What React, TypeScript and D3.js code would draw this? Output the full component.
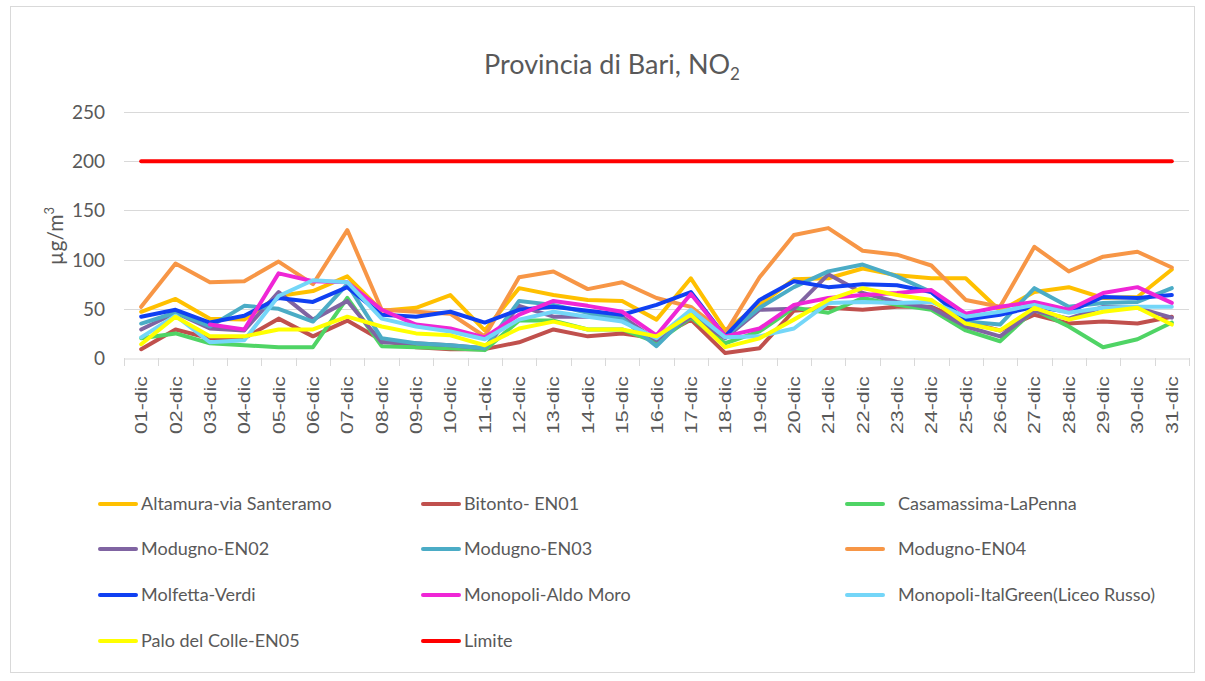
import { useEffect, useRef } from 'react';
import * as d3 from 'd3';

const days = Array.from({ length: 31 }, (_, i) => `${String(i + 1).padStart(2, '0')}-dic`);

const altamura = [47, 60, 40, 39, 63, 68, 83, 48, 51, 64, 28, 71, 64, 59, 58, 39, 81, 28, 54, 80, 81, 91, 84, 81, 81, 48, 67, 72, 61, 62, 90];
const bitonto = [9, 29, 20, 20, 40, 22, 38, 18, 11, 9, 9, 16, 29, 22, 25, 20, 39, 5, 10, 48, 51, 49, 52, 52, 37, 28, 44, 35, 37, 35, 42];
const casamassima = [20, 25, 15, 13, 11, 11, 61, 12, 11, 10, 8, 38, 38, 29, 29, 16, 41, 15, 27, 51, 46, 61, 54, 49, 28, 17, 49, 32, 11, 19, 36];
const modugno02 = [29, 46, 30, 28, 67, 39, 58, 16, 15, 13, 10, 53, 42, 42, 42, 18, 42, 20, 49, 50, 85, 66, 57, 51, 32, 22, 48, 40, 52, 51, 41];
const modugno03 = [35, 46, 32, 53, 50, 37, 75, 20, 15, 13, 10, 58, 54, 46, 40, 12, 47, 22, 51, 72, 88, 95, 83, 67, 37, 34, 71, 52, 56, 57, 71];
const modugno04 = [52, 96, 77, 78, 98, 75, 130, 49, 47, 45, 22, 82, 88, 70, 77, 61, 52, 25, 82, 125, 132, 109, 105, 94, 59, 52, 113, 88, 103, 108, 92];
const molfetta = [42, 49, 36, 43, 61, 57, 72, 44, 42, 47, 36, 49, 52, 48, 44, 54, 67, 22, 59, 78, 72, 75, 74, 67, 39, 44, 52, 47, 62, 61, 64];
const aldoMoro = [null, null, 34, 29, 86, 78, 77, 49, 34, 30, 21, 44, 58, 53, 47, 23, 65, 22, 30, 54, 61, 64, 66, 69, 45, 52, 57, 49, 66, 72, 56];
const italGreen = [21, 43, 16, 18, 63, 79, 77, 40, 32, 27, 19, 39, 47, 42, 37, 20, 49, 21, 22, 30, 56, 57, 56, 57, 42, 47, 54, 46, 51, 52, 52];
const paloColle = [14, 42, 22, 22, 29, 29, 42, 32, 25, 23, 13, 30, 37, 29, 29, 22, 44, 11, 20, 39, 59, 71, 64, 59, 35, 28, 51, 39, 47, 51, 34];
const limite = days.map(() => 200);

const seriesNames = [
  'Altamura-via Santeramo',
  'Bitonto- EN01',
  'Casamassima-LaPenna',
  'Modugno-EN02',
  'Modugno-EN03',
  'Modugno-EN04',
  'Molfetta-Verdi',
  'Monopoli-Aldo Moro',
  'Monopoli-ItalGreen(Liceo Russo)',
  'Palo del Colle-EN05',
  'Limite',
];
const seriesValues = [altamura, bitonto, casamassima, modugno02, modugno03, modugno04, molfetta, aldoMoro, italGreen, paloColle, limite];
const seriesColors = ['#ffc000', '#c0504d', '#4fd465', '#8064a2', '#4bacc6', '#f79646', '#1040f2', '#ef26d6', '#74d6f8', '#ffff00', '#ff0000'];
const yTicks = [0, 50, 100, 150, 200, 250];

export default function App() {
  const ref = useRef<SVGSVGElement>(null);

  useEffect(() => {
    const svg = d3.select(ref.current);
    svg.selectAll('*').remove();

    const width = 1205;
    const height = 681;
    const font = 'Lato, "Open Sans", sans-serif';
    const grey = '#595959';

    svg.attr('width', width).attr('height', height);

    // frame
    svg.append('rect')
      .attr('x', 10.5).attr('y', 6.5)
      .attr('width', 1184).attr('height', 666)
      .attr('fill', '#fff').attr('stroke', '#d9d9d9');

    const x = d3.scaleBand<string>().domain(days).range([124, 1189]);
    const cx = (d: string) => (x(d) as number) + x.bandwidth() / 2;
    const y = d3.scaleLinear().domain([0, 250]).range([358, 112]);

    // title
    const title = svg.append('text')
      .attr('x', 612).attr('y', 74)
      .attr('text-anchor', 'middle')
      .attr('font-family', font)
      .attr('font-size', 27)
      .attr('fill', grey)
      .text('Provincia di Bari, NO');
    title.append('tspan').attr('font-size', 17).attr('dy', 6).text('2');

    // grid
    svg.append('g').selectAll('line')
      .data(yTicks.slice(1))
      .join('line')
      .attr('x1', 124).attr('x2', 1189)
      .attr('y1', (d) => Math.round(y(d)) + 0.5)
      .attr('y2', (d) => Math.round(y(d)) + 0.5)
      .attr('stroke', '#d9d9d9');

    // y labels
    svg.append('g').selectAll('text')
      .data(yTicks)
      .join('text')
      .attr('x', 105).attr('y', (d) => y(d) + 7)
      .attr('text-anchor', 'end')
      .attr('font-family', font)
      .attr('font-size', 19)
      .attr('fill', grey)
      .text((d) => d);

    const yTitle = svg.append('text')
      .attr('transform', 'translate(63,236) rotate(-90)')
      .attr('text-anchor', 'middle')
      .attr('font-family', font)
      .attr('font-size', 21)
      .attr('fill', grey)
      .text('µg/m');
    yTitle.append('tspan').attr('font-size', 13).attr('dy', -9).text('3');

    // x axis
    const xAxis = svg.append('g')
      .attr('transform', 'translate(0,358.5)')
      .call(d3.axisBottom(x).tickSize(0).tickFormat(() => ''));
    xAxis.select('.domain').attr('stroke', '#d9d9d9');
    svg.append('g').selectAll('line')
      .data([...days.map((d) => x(d) as number), 1189])
      .join('line')
      .attr('x1', (d) => Math.round(d) + 0.5).attr('x2', (d) => Math.round(d) + 0.5)
      .attr('y1', 358).attr('y2', 366)
      .attr('stroke', '#d9d9d9');
    svg.append('g').selectAll('text')
      .data(days)
      .join('text')
      .attr('transform', (d) => `translate(${cx(d) + 6},376) rotate(-90)`)
      .attr('text-anchor', 'end')
      .attr('font-family', '"Liberation Sans", Arial, sans-serif')
      .attr('font-size', 16)
      .attr('textLength', 58)
      .attr('lengthAdjust', 'spacingAndGlyphs')
      .attr('fill', grey)
      .text((d) => d);

    // lines
    const line = d3.line<number | null>()
      .defined((d) => d != null)
      .x((_, i) => cx(days[i]))
      .y((d) => y(d as number));

    svg.append('g').selectAll('path')
      .data(seriesValues)
      .join('path')
      .attr('fill', 'none')
      .attr('stroke', (_, i) => seriesColors[i])
      .attr('stroke-width', 4)
      .attr('stroke-linejoin', 'round')
      .attr('stroke-linecap', 'round')
      .attr('d', (d) => line(d));

    // legend
    const colLine = [100, 423, 847];
    const rowY = [504, 549, 595, 641];
    const leg = svg.append('g').selectAll('g')
      .data(seriesNames)
      .join('g')
      .attr('transform', (_, i) => `translate(${colLine[i % 3]},${rowY[Math.floor(i / 3)]})`);
    leg.append('line')
      .attr('x1', 0).attr('x2', 36)
      .attr('stroke', (_, i) => seriesColors[i])
      .attr('stroke-width', 4)
      .attr('stroke-linecap', 'round');
    leg.append('text')
      .attr('x', (_, i) => (i % 3 === 2 ? 51 : 41))
      .attr('y', 6)
      .attr('font-family', font)
      .attr('font-size', 18)
      .attr('fill', grey)
      .text((d) => d);
  }, []);

  return <svg ref={ref} style={{ position: 'absolute', left: 0, top: 0 }}></svg>;
}
